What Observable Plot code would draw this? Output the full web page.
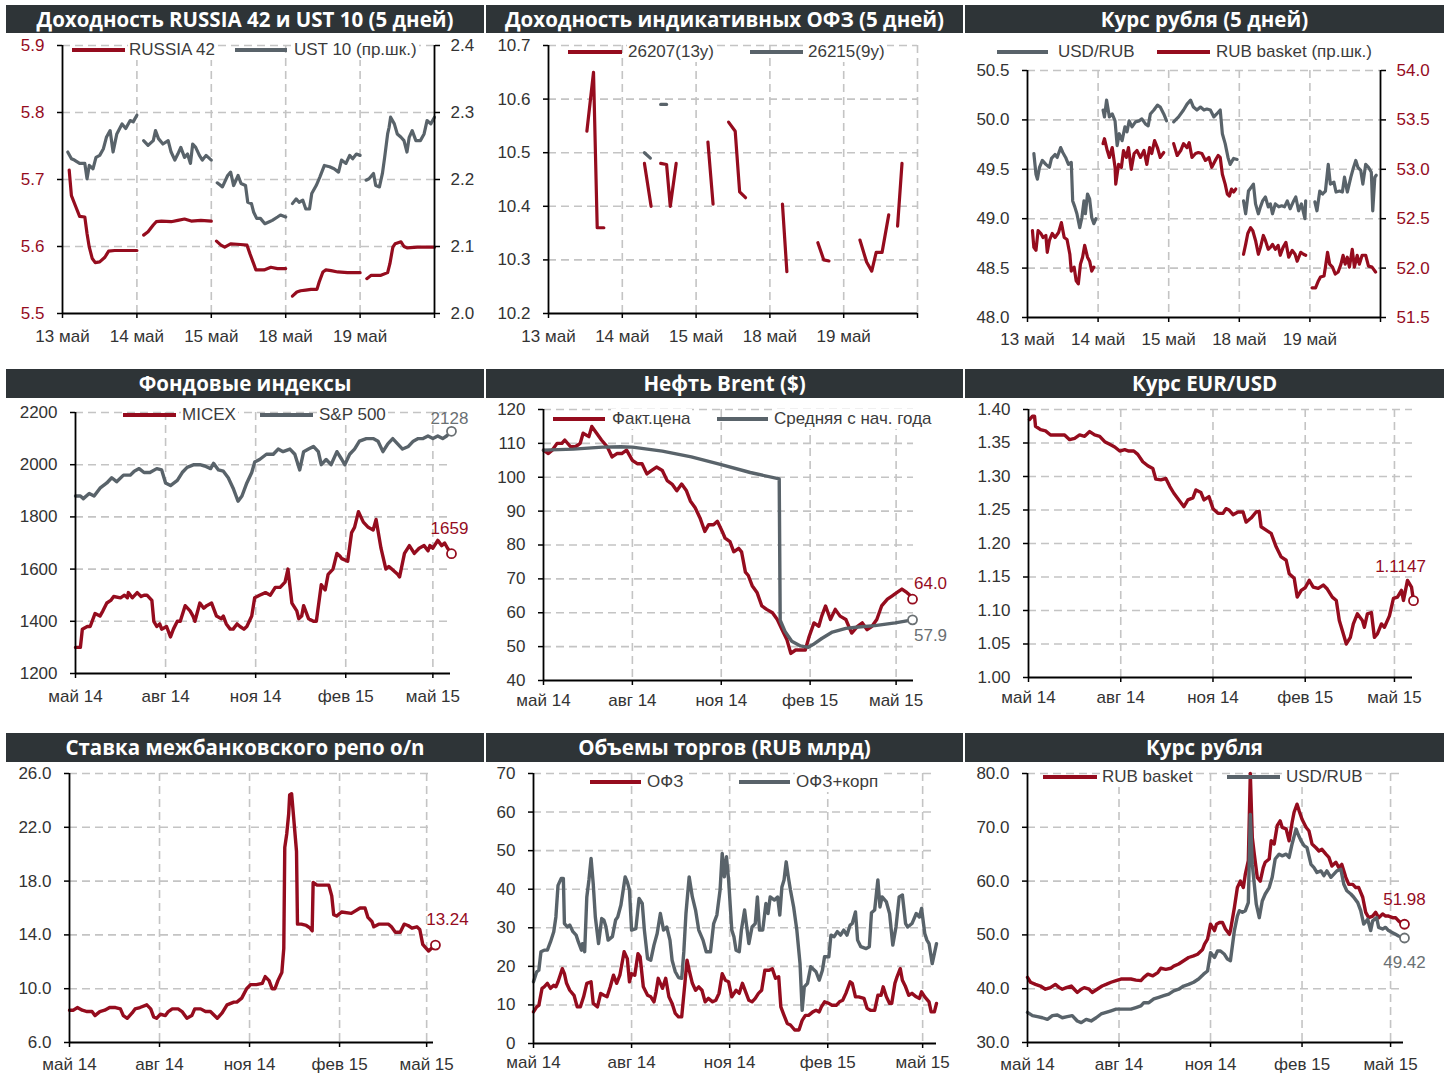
<!DOCTYPE html>
<html><head><meta charset="utf-8">
<script src="https://cdn.jsdelivr.net/npm/d3@7"></script>
<script src="https://cdn.jsdelivr.net/npm/@observablehq/plot@0.6"></script>
<style>
html,body{margin:0;padding:0;background:#fff;}
#page{position:relative;width:1454px;height:1077px;overflow:hidden;background:#fff;font-family:'Liberation Sans',Arial,sans-serif;}
.hdr{position:absolute;background:#2e3437;color:#fff;font-family:'Open Sans','Noto Sans',sans-serif;font-weight:700;font-size:20.5px;text-align:center;white-space:nowrap;}
.lgtxt{position:absolute;background:#fff;color:#3c3c3c;font-size:17px;line-height:20px;white-space:nowrap;padding:0 2px 0 1px;}
.sw{position:absolute;height:4px;}
</style></head><body><div id="page"></div>
<script>
// ======================= DATA =======================
const titles = ["Доходность RUSSIA 42 и UST 10 (5 дней)", "Доходность индикативных ОФЗ (5 дней)", "Курс рубля (5 дней)",
  "Фондовые индексы", "Нефть Brent ($)", "Курс EUR/USD",
  "Ставка межбанковского репо o/n", "Объемы торгов (RUB млрд)", "Курс рубля"];

const days5 = ["13 май", "14 май", "15 май", "18 май", "19 май"];
const monthLabels = ["май 14", "авг 14", "ноя 14", "фев 15", "май 15"];
const monthOffsets = [0, 92, 184, 276, 365]; // days since 2014-05-01

// y tick labels
const russiaTicks = [5.5, 5.6, 5.7, 5.8, 5.9];
const ustTicks = [2.0, 2.1, 2.2, 2.3, 2.4];
const ofzTicks = [10.2, 10.3, 10.4, 10.5, 10.6, 10.7];
const usd5Ticks = [48.0, 48.5, 49.0, 49.5, 50.0, 50.5];
const basket5Ticks = [51.5, 52.0, 52.5, 53.0, 53.5, 54.0];
const indexTicks = [1200, 1400, 1600, 1800, 2000, 2200];
const brentTicks = [40, 50, 60, 70, 80, 90, 100, 110, 120];
const eurTicks = [1.00, 1.05, 1.10, 1.15, 1.20, 1.25, 1.30, 1.35, 1.40];
const repoTicks = [6, 10, 14, 18, 22, 26];
const volTicks = [0, 10, 20, 30, 40, 50, 60, 70];
const rubTicks = [30, 40, 50, 60, 70, 80];

// series names
const p1Names = ["RUSSIA 42", "UST 10 (пр.шк.)"];
const p2Names = ["26207(13y)", "26215(9y)"];
const p3Names = ["USD/RUB", "RUB basket (пр.шк.)"];
const p4Names = ["MICEX", "S&P 500"];
const p5Names = ["Факт.цена", "Средняя с нач. года"];
const p8Names = ["ОФЗ", "ОФЗ+корп"];
const p9Names = ["RUB basket", "USD/RUB"];

// --- 5-day intraday: per day, [fraction of day, value]
const russia42 = [
  [[.09,5.714],[.12,5.676],[.18,5.659],[.23,5.645],[.30,5.644],[.33,5.619],[.36,5.599],[.40,5.582],[.44,5.576],[.50,5.577],[.57,5.584],[.62,5.593],[.70,5.594],[1.0,5.594]],
  [[.09,5.617],[.15,5.622],[.22,5.632],[.26,5.637],[.33,5.638],[.46,5.637],[.55,5.639],[.64,5.641],[.73,5.638],[.86,5.639],[1.0,5.638]],
  [[.07,5.608],[.13,5.602],[.18,5.599],[.26,5.604],[.39,5.603],[.48,5.602],[.52,5.589],[.57,5.574],[.60,5.565],[.71,5.565],[.80,5.569],[.89,5.567],[1.0,5.567]],
  [[.09,5.526],[.15,5.532],[.20,5.534],[.27,5.535],[.34,5.536],[.42,5.536],[.45,5.547],[.50,5.562],[.54,5.565],[.61,5.564],[.70,5.562],[.83,5.561],[1.0,5.561]],
  [[.09,5.552],[.15,5.557],[.28,5.557],[.37,5.561],[.40,5.574],[.44,5.599],[.47,5.604],[.55,5.607],[.59,5.600],[.63,5.598],[.77,5.599],[1.0,5.599]]
];
const ust10 = [
  [[.07,2.241],[.12,2.231],[.16,2.229],[.23,2.224],[.30,2.224],[.33,2.201],[.36,2.221],[.41,2.216],[.45,2.233],[.50,2.236],[.55,2.246],[.59,2.263],[.64,2.273],[.68,2.241],[.73,2.268],[.80,2.283],[.85,2.276],[.91,2.288],[.95,2.286],[1.0,2.296]],
  [[.09,2.258],[.15,2.251],[.22,2.258],[.25,2.273],[.29,2.261],[.35,2.253],[.42,2.258],[.46,2.241],[.51,2.229],[.55,2.238],[.59,2.248],[.64,2.233],[.68,2.238],[.72,2.224],[.75,2.253],[.79,2.248],[.84,2.236],[.88,2.229],[.93,2.236],[1.0,2.229]],
  [[.08,2.195],[.15,2.189],[.22,2.206],[.26,2.211],[.30,2.191],[.36,2.206],[.40,2.194],[.46,2.191],[.49,2.166],[.54,2.164],[.57,2.151],[.61,2.142],[.66,2.142],[.72,2.134],[.78,2.137],[.82,2.139],[.89,2.144],[.93,2.147],[1.0,2.144]],
  [[.09,2.164],[.14,2.171],[.18,2.166],[.23,2.169],[.27,2.156],[.32,2.156],[.35,2.179],[.41,2.191],[.46,2.204],[.52,2.221],[.59,2.219],[.65,2.216],[.71,2.211],[.75,2.229],[.81,2.224],[.86,2.236],[.90,2.231],[.95,2.238],[1.0,2.236]],
  [[.08,2.199],[.12,2.201],[.18,2.209],[.21,2.191],[.26,2.189],[.30,2.209],[.33,2.233],[.37,2.268],[.39,2.278],[.41,2.293],[.46,2.283],[.50,2.268],[.55,2.263],[.59,2.258],[.63,2.241],[.66,2.263],[.70,2.273],[.75,2.258],[.81,2.258],[.86,2.268],[.90,2.288],[.95,2.283],[1.0,2.293]]
];
// OFZ: segments of [day position, value]
const ofz26207 = [
  [[0.52,10.54],[0.61,10.65],[0.66,10.36],[0.75,10.36]],
  [[1.30,10.48],[1.39,10.40]],
  [[1.52,10.48],[1.60,10.478],[1.65,10.40],[1.73,10.48]],
  [[2.16,10.52],[2.23,10.404]],
  [[2.44,10.557],[2.53,10.54],[2.59,10.427],[2.67,10.416]],
  [[3.17,10.404],[3.23,10.278]],
  [[3.65,10.332],[3.73,10.30],[3.80,10.298]],
  [[4.22,10.337],[4.31,10.296],[4.38,10.279],[4.44,10.314],[4.52,10.314],[4.61,10.384]],
  [[4.73,10.363],[4.79,10.48]]
];
const ofz26215 = [
  [[1.30,10.50],[1.38,10.49]],
  [[1.52,10.59],[1.60,10.59]]
];
const usdrub5 = [
  [[.09,49.66],[.12,49.45],[.14,49.40],[.17,49.52],[.21,49.59],[.26,49.55],[.31,49.52],[.34,49.61],[.39,49.65],[.42,49.62],[.47,49.72],[.50,49.67],[.54,49.62],[.58,49.55],[.62,49.57],[.64,49.18],[.67,49.12],[.70,49.05],[.74,48.91],[.77,49.01],[.80,49.18],[.82,49.05],[.85,49.25],[.88,49.20],[.91,49.01],[.94,48.95],[.97,49.00]],
  [[.07,50.10],[.09,50.03],[.12,50.20],[.16,50.03],[.20,50.06],[.24,49.99],[.27,49.74],[.30,49.86],[.34,49.79],[.38,49.93],[.41,49.88],[.44,49.99],[.48,49.93],[.53,49.98],[.58,49.99],[.62,50.01],[.67,49.96],[.71,49.94],[.74,50.06],[.79,50.10],[.84,50.15],[.88,50.13],[.93,50.06],[.97,49.99]],
  [[.07,49.98],[.14,50.03],[.21,50.10],[.26,50.16],[.31,50.20],[.35,50.13],[.40,50.10],[.45,50.13],[.50,50.10],[.54,50.11],[.59,50.10],[.64,50.03],[.68,50.06],[.73,50.10],[.76,49.86],[.80,49.76],[.84,49.62],[.87,49.55],[.92,49.61],[.97,49.60]],
  [[.06,49.18],[.09,49.05],[.13,49.28],[.17,49.32],[.20,49.35],[.23,49.15],[.27,49.05],[.30,49.12],[.33,49.18],[.37,49.22],[.41,49.12],[.44,49.15],[.47,49.05],[.51,49.15],[.56,49.12],[.60,49.13],[.64,49.12],[.68,49.18],[.72,49.10],[.77,49.18],[.80,49.22],[.84,49.08],[.88,49.15],[.93,49.00],[.94,49.18]],
  [[.07,49.17],[.10,49.08],[.14,49.28],[.18,49.25],[.22,49.28],[.26,49.55],[.29,49.35],[.34,49.37],[.37,49.27],[.42,49.28],[.46,49.27],[.49,49.42],[.53,49.27],[.58,49.42],[.61,49.50],[.65,49.59],[.68,49.52],[.72,49.49],[.75,49.35],[.79,49.55],[.83,49.52],[.87,49.47],[.89,49.08],[.92,49.42],[.94,49.44]]
];
const basket5 = [
  [[.07,52.38],[.09,52.21],[.12,52.18],[.15,52.38],[.19,52.35],[.22,52.31],[.26,52.33],[.28,52.16],[.31,52.28],[.35,52.35],[.39,52.31],[.44,52.36],[.48,52.46],[.52,52.31],[.56,52.29],[.60,52.14],[.62,51.97],[.66,52.01],[.69,51.87],[.72,51.84],[.75,52.04],[.78,52.11],[.81,52.23],[.85,52.11],[.88,52.07],[.91,51.97],[.94,52.01]],
  [[.07,53.26],[.09,53.31],[.13,53.19],[.16,53.12],[.20,53.22],[.24,53.02],[.25,52.85],[.29,53.05],[.33,53.02],[.36,53.19],[.40,53.12],[.43,53.22],[.47,53.00],[.51,53.16],[.55,53.19],[.60,53.12],[.65,53.19],[.69,53.05],[.73,53.22],[.76,53.16],[.80,53.29],[.84,53.22],[.88,53.12],[.93,53.17]],
  [[.07,53.26],[.12,53.14],[.17,53.19],[.21,53.26],[.26,53.22],[.29,53.27],[.33,53.12],[.38,53.16],[.42,53.17],[.47,53.16],[.52,53.09],[.57,53.12],[.61,53.02],[.66,53.09],[.70,53.14],[.73,53.12],[.76,52.95],[.80,52.85],[.83,52.75],[.86,52.73],[.89,52.80],[.92,52.77],[.95,52.80]],
  [[.06,52.14],[.09,52.24],[.12,52.35],[.16,52.41],[.19,52.38],[.23,52.28],[.27,52.14],[.30,52.21],[.34,52.33],[.37,52.28],[.41,52.19],[.44,52.21],[.47,52.24],[.51,52.19],[.55,52.23],[.58,52.13],[.62,52.21],[.66,52.26],[.70,52.11],[.75,52.18],[.79,52.14],[.82,52.07],[.87,52.16],[.91,52.14],[.94,52.13]],
  [[.03,51.80],[.08,51.80],[.12,51.87],[.15,51.91],[.20,51.92],[.22,52.01],[.25,52.16],[.28,52.04],[.32,52.01],[.36,51.94],[.40,51.96],[.44,52.04],[.47,52.13],[.50,52.04],[.53,52.11],[.56,52.01],[.60,52.19],[.63,52.01],[.67,52.13],[.70,52.04],[.74,52.13],[.79,52.13],[.83,52.02],[.88,52.01],[.93,51.96]]
];

// --- observations over the year: [days since 2014-05-01, value]
const micex = [[0,1300],[5,1300],[7,1370],[12,1380],[15,1380],[20,1430],[25,1420],[28,1440],[32,1470],[36,1480],[39,1495],[46,1490],[50,1500],[53,1490],[54,1510],[58,1490],[63,1510],[67,1495],[70,1500],[73,1500],[78,1480],[80,1400],[83,1380],[86,1390],[88,1370],[93,1380],[97,1340],[100,1370],[104,1400],[107,1400],[112,1460],[117,1440],[120,1420],[122,1400],[127,1470],[131,1450],[134,1460],[139,1470],[144,1420],[149,1410],[151,1420],[154,1390],[158,1370],[161,1370],[165,1390],[168,1380],[172,1370],[175,1380],[180,1420],[183,1490],[188,1500],[194,1510],[199,1500],[204,1530],[209,1530],[214,1550],[217,1600],[221,1470],[226,1440],[228,1410],[231,1420],[233,1460],[238,1410],[243,1400],[246,1400],[251,1540],[255,1520],[258,1580],[263,1600],[267,1660],[270,1650],[272,1640],[278,1630],[282,1740],[285,1760],[289,1820],[294,1780],[299,1760],[304,1750],[307,1790],[312,1680],[317,1600],[320,1610],[323,1600],[329,1580],[331,1570],[336,1660],[341,1690],[346,1660],[351,1680],[356,1690],[360,1670],[362,1690],[365,1680],[370,1710],[374,1690],[377,1700],[380,1680],[384,1659]];
const sp500 = [[0,1880],[5,1880],[8,1870],[14,1890],[19,1880],[25,1910],[32,1930],[37,1950],[42,1935],[49,1960],[56,1960],[60,1975],[65,1985],[70,1970],[76,1970],[83,1985],[88,1980],[92,1930],[97,1920],[104,1940],[109,1970],[114,1990],[121,2000],[127,2000],[132,1995],[138,1985],[141,2005],[146,1980],[151,1975],[156,1950],[161,1910],[166,1860],[170,1880],[175,1930],[180,1970],[183,2010],[188,2020],[195,2040],[202,2040],[207,2060],[212,2050],[219,2060],[224,2040],[229,1980],[233,2050],[238,2060],[243,2070],[248,2050],[251,2000],[256,2020],[261,2000],[267,2050],[272,2020],[275,2000],[280,2040],[285,2060],[290,2090],[297,2100],[304,2100],[309,2090],[314,2050],[319,2080],[324,2100],[329,2080],[334,2060],[340,2070],[345,2090],[350,2100],[355,2100],[360,2110],[365,2100],[370,2110],[375,2100],[379,2110],[384,2128]];
const brent = [[0,108],[5,107],[9,108],[14,110],[19,110],[22,111],[28,109],[33,109],[38,110],[41,113],[47,112],[50,115],[55,113],[60,111],[66,109],[71,106],[76,107],[81,107],[86,108],[92,105],[97,104],[102,104],[107,101],[112,102],[117,103],[123,102],[128,99],[133,98],[138,96],[143,98],[148,96],[152,93],[157,91],[162,88],[167,84],[171,86],[176,86],[180,87],[185,84],[188,82],[193,81],[197,78],[202,79],[205,78],[209,72],[212,71],[216,68],[221,66],[226,62],[231,61],[237,60],[242,58],[247,55],[252,52],[256,48],[261,49],[266,49],[271,49],[275,53],[280,57],[285,56],[288,59],[292,62],[297,58],[302,61],[307,59],[313,58],[316,56],[319,54],[325,56],[330,57],[335,55],[340,56],[345,58],[350,62],[356,64],[361,65],[366,66],[371,67],[376,66],[380,65],[382,64.0]];
const brentAvg = [[0,108.0],[31,108.3],[61,108.9],[80,109.0],[92,108.9],[123,107.7],[153,106.0],[184,103.7],[214,101.4],[244,99.5],[245,57.8],[250,54.5],[257,51.6],[266,50.2],[274,49.8],[279,50.6],[288,52.4],[299,54.3],[313,55.4],[326,55.8],[343,56.2],[364,57.0],[382,57.9]];
const eurusd = [[1,1.385],[4,1.39],[6,1.39],[7,1.375],[12,1.37],[17,1.368],[22,1.362],[29,1.362],[36,1.362],[41,1.355],[46,1.357],[51,1.362],[56,1.36],[61,1.367],[66,1.362],[71,1.36],[76,1.352],[81,1.348],[86,1.344],[91,1.338],[96,1.34],[100,1.338],[105,1.338],[109,1.333],[114,1.322],[119,1.316],[124,1.312],[127,1.296],[132,1.295],[137,1.297],[141,1.285],[145,1.275],[150,1.265],[155,1.255],[159,1.265],[164,1.268],[167,1.280],[172,1.276],[175,1.265],[180,1.27],[184,1.252],[189,1.245],[194,1.245],[197,1.252],[200,1.25],[204,1.243],[209,1.247],[214,1.247],[217,1.232],[222,1.238],[227,1.247],[230,1.248],[232,1.225],[237,1.22],[242,1.215],[247,1.195],[252,1.18],[257,1.175],[260,1.155],[265,1.148],[268,1.12],[272,1.13],[276,1.134],[280,1.145],[284,1.135],[289,1.133],[294,1.138],[298,1.132],[303,1.12],[307,1.115],[310,1.085],[313,1.07],[317,1.05],[321,1.06],[324,1.08],[328,1.095],[333,1.085],[335,1.075],[338,1.095],[342,1.097],[345,1.06],[348,1.065],[352,1.08],[355,1.075],[360,1.092],[364,1.118],[368,1.12],[372,1.13],[374,1.115],[378,1.145],[382,1.135],[384,1.1147]];
const repo = [[0,8.4],[4,8.4],[8,8.6],[13,8.4],[18,8.3],[23,8.3],[26,8.0],[31,8.3],[36,8.4],[41,8.6],[47,8.6],[52,8.5],[55,8.0],[59,7.8],[64,8.2],[67,8.5],[72,8.6],[79,8.8],[83,8.5],[86,7.9],[89,7.8],[93,8.1],[98,8.0],[101,8.3],[105,8.5],[111,8.5],[115,8.3],[120,7.8],[125,8.0],[128,8.5],[134,8.5],[139,8.3],[144,8.3],[151,7.8],[156,8.2],[161,8.8],[168,9.0],[171,9.0],[176,9.3],[181,10.0],[185,10.3],[191,10.3],[197,10.4],[200,10.9],[204,10.6],[207,10.0],[210,10.0],[213,10.6],[217,11.2],[219,13.0],[220,20.5],[222,21.5],[224,23.0],[225,24.4],[227,24.5],[229,22.8],[232,20.2],[233,14.8],[237,14.8],[242,14.7],[246,14.5],[248,14.3],[249,17.9],[253,17.7],[265,17.7],[268,16.9],[270,15.5],[273,15.4],[278,15.7],[288,15.6],[297,16.0],[302,16.0],[305,15.3],[309,15.0],[311,14.6],[316,14.8],[326,14.8],[329,14.6],[333,14.2],[338,14.2],[342,14.8],[346,14.7],[350,14.5],[355,14.6],[358,14.4],[361,13.3],[367,12.8],[370,13.0],[374,13.24]];
const volOfz = [[0,8.2],[3,9.5],[5,9.9],[8,14.3],[10,14.7],[13,15.6],[16,14.3],[19,15.1],[21,14.7],[23,16],[27,19.4],[29,18.1],[31,15.6],[34,13.8],[38,12.5],[41,9.5],[44,9.5],[47,12.1],[50,15.6],[54,16],[56,10.4],[60,9.5],[63,13],[66,12.5],[69,12.1],[72,14.7],[75,17.7],[78,15.6],[81,17.7],[85,23.8],[88,22],[90,16],[92,18.1],[95,17.7],[98,23.3],[100,22.5],[103,14.7],[107,12.5],[110,12.1],[113,10.8],[115,13.4],[117,16.9],[121,14.3],[124,16.9],[127,12.1],[130,10.4],[133,7.8],[136,6.9],[139,6.9],[142,15.6],[144,21.6],[146,19],[149,15.6],[152,13.8],[155,14.7],[158,13.8],[161,10.8],[164,11.7],[168,10.8],[171,11.2],[174,13],[177,18.1],[180,16.4],[183,16],[186,12.1],[190,13.8],[193,13],[196,15.6],[199,13.4],[202,11.2],[205,10.8],[208,11.7],[211,13],[214,13.8],[217,19],[221,19],[224,19.4],[227,16.9],[230,17.3],[232,9.5],[235,7.3],[238,5.2],[241,4.8],[245,3.5],[249,3.5],[252,6],[255,7.3],[258,7.3],[262,8.2],[265,8.6],[268,8.2],[270,9.5],[273,10.8],[277,10.4],[280,9.9],[284,9.9],[287,10.8],[290,11.2],[293,13],[297,16],[299,15.6],[302,12.1],[305,12.1],[310,11.7],[313,9.1],[316,8.6],[320,8.6],[323,12.5],[326,12.5],[328,14.7],[331,12.1],[334,10.4],[336,10.4],[339,15.6],[341,17.3],[344,19.4],[346,16.4],[349,14.7],[352,12.5],[355,13],[359,12.1],[362,11.7],[364,13.4],[367,12.1],[371,10.8],[373,8.2],[376,8.2],[378,10.4]];
const volTotal = [[0,16],[3,18.6],[5,19],[7,23.8],[10,24.2],[13,24.2],[16,26.4],[19,29],[21,32.8],[23,41],[26,42.8],[28,42.8],[29,31.1],[32,30.2],[34,30.7],[37,29],[40,28.1],[42,26.4],[45,24.2],[46,25.9],[48,23.8],[50,38],[52,42.4],[54,48],[56,41.5],[58,32.8],[61,25.9],[64,32.4],[66,32],[68,30.2],[70,26.8],[74,27.7],[77,32],[79,32.8],[82,35.9],[86,43.2],[88,41.9],[90,39.8],[92,29.4],[96,29.8],[99,37.6],[102,36.3],[104,29.4],[107,22],[110,21.6],[113,25.5],[116,28.5],[119,33.7],[122,29.4],[125,30.2],[128,26.8],[130,21.6],[133,18.6],[136,17.1],[139,16.9],[141,23.8],[143,33.7],[146,43.2],[149,38],[152,34.6],[155,29.4],[159,26.8],[162,23.8],[166,23.8],[169,31.1],[172,33.3],[175,39.8],[177,49.3],[179,43.2],[181,48.4],[183,42.4],[186,29.4],[188,27.7],[190,24.2],[193,23.8],[195,29.4],[198,34.6],[202,25.9],[205,30.2],[208,31.1],[210,38],[212,29.4],[215,29.4],[218,36.3],[220,33.7],[222,38],[226,37.2],[229,38],[231,33.3],[233,40.6],[235,42.4],[237,47.1],[239,43.2],[241,39.8],[244,35.4],[247,29.4],[250,20.7],[252,8.6],[254,14.7],[257,15.6],[260,19.9],[265,18.6],[268,16.4],[271,19],[273,22.5],[277,22.5],[279,28.1],[282,27.7],[285,29],[288,28.1],[291,29.4],[294,28.1],[297,30.7],[299,31.1],[302,34.1],[304,26.8],[307,25.1],[312,24.6],[315,25.1],[317,33.9],[320,34.6],[323,42.4],[325,35.4],[327,38],[331,36.7],[334,33.7],[337,25.5],[340,30.2],[343,38],[346,38.5],[349,31.1],[351,30.2],[355,31.1],[359,33.7],[362,32.8],[364,35],[367,28.5],[369,26.8],[371,25.9],[374,20.7],[376,23.3],[378,25.9]];
const rubBasket = [[0,42.1],[3,41.2],[8,40.8],[13,40.5],[18,39.9],[23,40.2],[28,40.8],[32,40.2],[35,39.9],[39,40.2],[44,40.5],[47,39.9],[50,39.3],[54,39.9],[57,40.2],[62,39.9],[65,39.3],[70,39.9],[75,40.5],[79,40.8],[84,41.2],[89,41.5],[94,41.8],[99,41.8],[104,41.8],[109,41.6],[114,41.5],[117,42.1],[121,42.7],[126,42.4],[131,43.0],[134,43.8],[139,43.6],[144,43.8],[147,44.2],[152,44.6],[157,45.2],[162,45.8],[167,46.1],[171,46.4],[176,47.3],[178,48.3],[181,49.2],[184,52.0],[188,50.8],[190,52.0],[193,52.3],[196,52.3],[199,51.1],[203,50.1],[204,50.8],[208,55.1],[211,58.8],[214,60.0],[217,58.8],[219,61.3],[222,63.8],[224,80.0],[226,68.1],[228,65.0],[231,60.7],[234,60.0],[237,62.5],[239,63.5],[243,64.1],[245,67.5],[248,66.9],[251,70.3],[254,71.2],[256,70.0],[260,69.7],[263,67.5],[266,70.9],[268,72.8],[271,74.3],[273,73.1],[276,71.5],[280,70.0],[283,69.3],[286,66.9],[290,66.2],[293,65.6],[296,65.9],[300,65.0],[303,64.4],[306,62.8],[310,63.5],[313,62.5],[316,63.1],[320,60.7],[323,59.4],[327,59.4],[330,58.8],[333,58.8],[337,57.0],[340,54.2],[343,53.2],[347,53.5],[350,54.2],[353,53.2],[357,53.9],[360,53.5],[363,53.5],[367,53.2],[370,53.2],[373,52.6],[377,52.0],[379,51.98]];
const usdRub = [[0,35.6],[5,35.0],[10,34.8],[15,34.6],[20,34.3],[25,35.0],[30,35.1],[35,34.6],[40,34.8],[45,35.0],[50,34.0],[54,33.7],[59,34.3],[64,34.0],[69,34.6],[74,35.3],[79,35.6],[84,35.9],[89,36.2],[94,36.2],[99,36.2],[104,36.2],[109,36.5],[114,36.8],[117,37.4],[122,37.4],[127,38.1],[132,38.4],[137,38.7],[142,39.0],[147,39.6],[152,39.9],[157,40.5],[162,40.8],[167,41.2],[172,41.8],[177,42.7],[181,43.3],[184,46.7],[188,45.8],[191,47.0],[194,47.0],[198,46.4],[201,45.5],[204,45.2],[208,50.8],[211,53.5],[213,54.5],[216,54.2],[219,54.5],[222,56.0],[224,72.4],[226,63.1],[228,59.4],[230,55.7],[233,53.2],[236,56.3],[239,57.6],[243,58.8],[246,60.7],[249,64.1],[253,65.0],[256,64.7],[260,65.0],[263,64.4],[266,66.9],[270,69.7],[272,68.7],[275,67.5],[278,66.6],[281,66.2],[285,63.1],[288,62.5],[291,61.6],[295,61.9],[298,61.0],[301,61.9],[305,60.7],[308,61.3],[311,61.9],[315,62.2],[318,59.4],[321,58.2],[325,57.6],[328,57.0],[332,56.0],[335,54.5],[338,52.0],[342,52.9],[345,50.8],[347,52.6],[351,53.2],[353,51.4],[357,51.1],[360,51.4],[363,50.8],[367,50.4],[370,50.1],[373,49.8],[377,49.5],[379,49.42]];

// ======================= STYLE / LAYOUT =======================
const RED = "#950c1e", GREY = "#59636a", GRID = "#c4c4c4", INK = "#333333", AGREY = "#6a7073";
const FONT = "'Liberation Sans', Arial, sans-serif";
const page = document.getElementById("page");

const hdrCols = [[6, 478], [486, 477], [965, 479]];
const hdrRows = [[5, 28], [369, 29], [733, 29]];
titles.forEach((t, i) => {
  const [l, w] = hdrCols[i % 3], [tp, h] = hdrRows[Math.floor(i / 3)];
  const d = document.createElement("div");
  d.className = "hdr";
  Object.assign(d.style, {left: l + "px", top: tp + "px", width: w + "px", height: h + "px", lineHeight: h + "px"});
  d.textContent = t;
  page.appendChild(d);
});

// helpers
const day0 = Date.UTC(2014, 4, 1);
const dt = o => new Date(day0 + o * 864e5);
const pairs = arr => arr.map(([o, v]) => ({date: dt(o), v}));
const intraday = days => days.flatMap((pts, d) => pts.map(([f, v]) => ({t: d + f, v, seg: d})));
const segs = list => list.flatMap((pts, s) => pts.map(([t, v]) => ({t, v, seg: s})));
const monthDates = monthOffsets.map(dt);
const monthFmt = d => monthLabels[monthDates.findIndex(m => +m === +d)] ?? "";
const dayFmt = d => days5[Math.round(d)] ?? "";

const grid = {stroke: GRID, strokeOpacity: 1, strokeWidth: 1.6, strokeDasharray: "8,5"};
const gx = v => Plot.gridX(v, grid);
const gy = v => Plot.gridY(v, grid);
const axL = (ticks, fmt, fill = INK) => Plot.axisY(ticks, {anchor: "left", tickSize: 5, tickPadding: 13, tickFormat: fmt, fill, stroke: "#000", strokeWidth: 1.5, fontSize: 17});
const axR = (ticks, fmt, fill) => Plot.axisY(ticks, {anchor: "right", tickSize: 5, tickPadding: 11, tickFormat: fmt, fill, stroke: "#000", strokeWidth: 1.5, fontSize: 17});
const axB = (ticks, fmt, pad) => Plot.axisX(ticks, {anchor: "bottom", tickSize: 5, tickPadding: pad, tickFormat: fmt, fill: INK, stroke: "#000", strokeWidth: 1.5, fontSize: 17});
const vLine = x => Plot.ruleX([x], {stroke: "#000", strokeWidth: 1.8});
const hLine = y => Plot.ruleY([y], {stroke: "#000", strokeWidth: 1.8});
const lineI = (data, color) => Plot.line(data, {x: "t", y: "v", z: "seg", stroke: color, strokeWidth: 3.2});
const lineD = (data, color) => Plot.line(data, {x: "date", y: "v", stroke: color, strokeWidth: 3.4});
function endMark(series, color, fmt, dx, dy) {
  const pt = series[series.length - 1];
  return [
    Plot.dot([pt], {x: "date", y: "v", r: 4.5, stroke: color, fill: "#fff", strokeWidth: 1.8}),
    Plot.text([pt], {x: "date", y: "v", text: d => fmt(d.v), dx, dy, fill: color, fontSize: 17})
  ];
}

function addPlot(box, frame, opts) {
  const [bx, by, bw, bh] = box, [x0, y0, x1, y1] = frame;
  const svg = Plot.plot({
    width: bw, height: bh,
    marginLeft: x0 - bx, marginRight: bx + bw - x1, marginTop: y0 - by, marginBottom: by + bh - y1,
    style: {fontFamily: FONT, fontSize: "17px", background: "transparent", color: INK, overflow: "visible"},
    x: {...opts.x, label: null}, y: {...opts.y, label: null},
    marks: opts.marks
  });
  Object.assign(svg.style, {position: "absolute", left: bx + "px", top: by + "px", maxWidth: "none"});
  page.appendChild(svg);
}
function legend(items) {
  for (const [sx0, sx1, y, tx, text, color] of items) {
    const s = document.createElement("div");
    s.className = "sw";
    Object.assign(s.style, {left: sx0 + "px", top: (y - 2) + "px", width: (sx1 - sx0) + "px", background: color});
    page.appendChild(s);
    const t = document.createElement("div");
    t.className = "lgtxt";
    Object.assign(t.style, {left: tx + "px", top: (y - 10) + "px"});
    t.textContent = text;
    page.appendChild(t);
  }
}

// ======================= PANELS =======================
// 1. RUSSIA 42 / UST 10
const p1Right = d3.scaleLinear([2.0, 2.4], [5.5, 5.9]);
addPlot([0, 34, 485, 331], [62, 45, 434, 313], {
  x: {type: "linear", domain: [0, 5]}, y: {domain: [5.5, 5.9]},
  marks: [
    gy([5.6, 5.7, 5.8, 5.9]), gx([1, 2, 3, 4]),
    lineI(intraday(ust10).map(d => ({...d, v: p1Right(d.v)})), GREY),
    lineI(intraday(russia42), RED),
    vLine(0), vLine(5), hLine(5.5),
    axL(russiaTicks, d => d.toFixed(1), RED),
    axR(ustTicks.map(p1Right), d => p1Right.invert(d).toFixed(1), INK),
    axB([0, 1, 2, 3, 4, 5], dayFmt, 11)
  ]
});
legend([[72, 125, 50, 128, p1Names[0], RED], [235, 287, 50, 293, p1Names[1], GREY]]);

// 2. OFZ
addPlot([485, 34, 480, 331], [548, 45, 917, 313], {
  x: {type: "linear", domain: [0, 5]}, y: {domain: [10.2, 10.7]},
  marks: [
    gy([10.3, 10.4, 10.5, 10.6, 10.7]), gx([1, 2, 3, 4, 5]),
    lineI(segs(ofz26215), GREY),
    lineI(segs(ofz26207), RED),
    vLine(0), hLine(10.2),
    axL(ofzTicks, d => d.toFixed(1)),
    axB([0, 1, 2, 3, 4, 5], dayFmt, 11)
  ]
});
legend([[568, 622, 52, 627, p2Names[0], RED], [750, 803, 52, 807, p2Names[1], GREY]]);

// 3. RUB 5 days
const p3Right = d3.scaleLinear([51.5, 54.0], [48.0, 50.5]);
addPlot([965, 34, 489, 331], [1027, 70, 1380, 317], {
  x: {type: "linear", domain: [0, 5]}, y: {domain: [48, 50.5]},
  marks: [
    gy([48.5, 49, 49.5, 50, 50.5]), gx([1, 2, 3, 4]),
    lineI(intraday(basket5).map(d => ({...d, v: p3Right(d.v)})), RED),
    lineI(intraday(usdrub5), GREY),
    vLine(0), vLine(5), hLine(48),
    axL(usd5Ticks, d => d.toFixed(1), INK),
    axR(basket5Ticks.map(p3Right), d => p3Right.invert(d).toFixed(1), RED),
    axB([0, 1, 2, 3, 4, 5], dayFmt, 10)
  ]
});
legend([[997, 1048, 52, 1057, p3Names[0], GREY], [1157, 1210, 52, 1215, p3Names[1], RED]]);

// 4. Stock indices
const micexS = pairs(micex), spS = pairs(sp500);
addPlot([0, 398, 485, 332], [75, 412, 450, 673], {
  x: {type: "utc", domain: [dt(0), dt(383)]}, y: {domain: [1200, 2200]},
  marks: [
    gy([1400, 1600, 1800, 2000, 2200]), gx(monthDates.slice(1)),
    lineD(micexS, RED), lineD(spS, GREY),
    vLine(dt(0)), hLine(1200),
    axL(indexTicks, d => String(d)),
    axB(monthDates, monthFmt, 11),
    ...endMark(spS, AGREY, v => String(v), -2, -13),
    ...endMark(micexS, RED, v => String(v), -2, -25)
  ]
});
legend([[123, 176, 415, 181, p4Names[0], RED], [260, 313, 415, 318, p4Names[1], GREY]]);

// 5. Brent
const brentS = pairs(brent), avgS = pairs(brentAvg);
addPlot([485, 398, 480, 332], [543, 409, 913, 680], {
  x: {type: "utc", domain: [dt(0), dt(383)]}, y: {domain: [40, 120]},
  marks: [
    gy([50, 60, 70, 80, 90, 100, 110, 120]), gx(monthDates.slice(1)),
    lineD(brentS, RED), lineD(avgS, GREY),
    vLine(dt(0)), hLine(40),
    axL(brentTicks, d => String(d)),
    axB(monthDates, monthFmt, 8),
    ...endMark(brentS, RED, v => v.toFixed(1), 18, -16),
    ...endMark(avgS, AGREY, v => v.toFixed(1), 18, 16)
  ]
});
legend([[553, 605, 419, 611, p5Names[0], RED], [717, 768, 419, 773, p5Names[1], GREY]]);

// 6. EUR/USD
const eurS = pairs(eurusd);
addPlot([965, 398, 489, 332], [1028, 409, 1412, 677], {
  x: {type: "utc", domain: [dt(0), dt(383)]}, y: {domain: [1.0, 1.4]},
  marks: [
    gy([1.05, 1.10, 1.15, 1.20, 1.25, 1.30, 1.35, 1.40]), gx(monthDates.slice(1)),
    lineD(eurS, RED),
    vLine(dt(0)), hLine(1.0),
    axL(eurTicks, d => d.toFixed(2)),
    axB(monthDates, monthFmt, 8),
    ...endMark(eurS, RED, v => v.toFixed(4), -13, -34)
  ]
});

// 7. Repo
const repoS = pairs(repo);
addPlot([0, 763, 485, 314], [69, 773, 433, 1042], {
  x: {type: "utc", domain: [dt(0), dt(372)]}, y: {domain: [6, 26]},
  marks: [
    gy([10, 14, 18, 22, 26]), gx(monthDates.slice(1)),
    lineD(repoS, RED),
    vLine(dt(0)), hLine(6),
    axL(repoTicks, d => d.toFixed(1)),
    axB(monthDates, monthFmt, 10),
    ...endMark(repoS, RED, v => v.toFixed(2), 12, -26)
  ]
});

// 8. Volumes
addPlot([485, 763, 480, 314], [533, 773, 936, 1043], {
  x: {type: "utc", domain: [dt(0), dt(378)]}, y: {domain: [0, 70]},
  marks: [
    gy([10, 20, 30, 40, 50, 60, 70]), gx(monthDates.slice(1)),
    lineD(pairs(volTotal), GREY), lineD(pairs(volOfz), RED),
    vLine(dt(0)), hLine(0),
    axL(volTicks, d => String(d)),
    axB(monthDates, monthFmt, 7)
  ]
});
legend([[590, 641, 782, 646, p8Names[0], RED], [739, 790, 782, 795, p8Names[1], GREY]]);

// 9. RUB
const basketS = pairs(rubBasket), usdS = pairs(usdRub);
addPlot([965, 763, 489, 314], [1027, 773, 1403, 1042], {
  x: {type: "utc", domain: [dt(0), dt(378)]}, y: {domain: [30, 80]},
  marks: [
    gy([40, 50, 60, 70, 80]), gx(monthDates.slice(1)),
    lineD(basketS, RED), lineD(usdS, GREY),
    vLine(dt(0)), hLine(30),
    axL(rubTicks, d => d.toFixed(1)),
    axB(monthDates, monthFmt, 10),
    ...endMark(basketS, RED, v => v.toFixed(2), 0, -25),
    ...endMark(usdS, AGREY, v => v.toFixed(2), 0, 25)
  ]
});
legend([[1043, 1097, 777, 1101, p9Names[0], RED], [1227, 1280, 777, 1285, p9Names[1], GREY]]);
</script></body></html>
